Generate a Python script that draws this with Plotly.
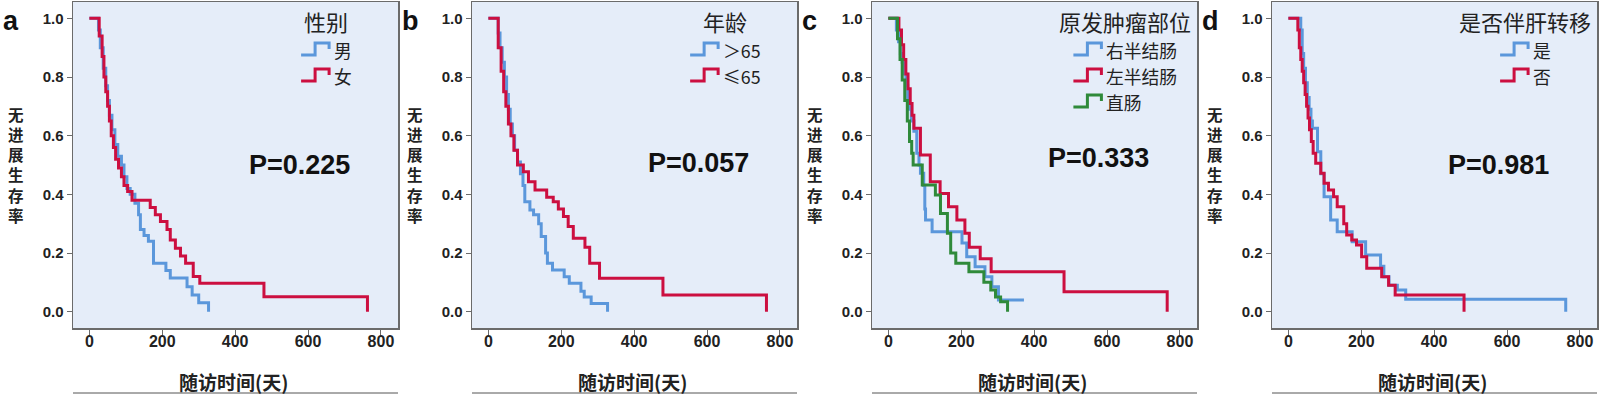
import plotly.graph_objects as go

# ---------------- data ----------------
# Panel a: 性别
a_male_t = [0, 25, 30, 38, 45, 50, 55, 62, 70, 78, 88, 95, 103, 112, 125, 135, 140, 150, 162, 176, 210, 222, 268, 282, 300, 327]
a_male_s = [1.0, 0.96, 0.9, 0.83, 0.77, 0.72, 0.67, 0.62, 0.57, 0.53, 0.5, 0.46, 0.42, 0.4, 0.37, 0.33, 0.28, 0.26, 0.24, 0.165, 0.14, 0.115, 0.085, 0.057, 0.03, 0.0]
a_female_t = [0, 27, 35, 40, 45, 50, 55, 60, 66, 72, 80, 88, 95, 105, 117, 167, 181, 195, 213, 222, 236, 250, 264, 285, 303, 479, 763]
a_female_s = [1.0, 0.94, 0.87, 0.80, 0.75, 0.70, 0.65, 0.60, 0.56, 0.52, 0.49, 0.46, 0.43, 0.41, 0.38, 0.355, 0.33, 0.307, 0.28, 0.244, 0.216, 0.19, 0.165, 0.12, 0.097, 0.051, 0.0]

# Panel b: 年龄
b_old_t = [0, 27, 32, 38, 44, 50, 55, 60, 66, 72, 80, 88, 95, 100, 114, 124, 138, 145, 157, 162, 176, 208, 222, 254, 263, 282, 327]
b_old_s = [1.0, 0.95, 0.9, 0.85, 0.8, 0.74, 0.69, 0.64, 0.6, 0.55, 0.51, 0.47, 0.43, 0.375, 0.347, 0.33, 0.3, 0.256, 0.2, 0.165, 0.142, 0.119, 0.097, 0.07, 0.05, 0.028, 0.0]
b_young_t = [0, 27, 35, 42, 48, 55, 62, 70, 80, 96, 110, 128, 160, 178, 192, 206, 219, 233, 265, 278, 305, 479, 763]
b_young_s = [1.0, 0.9, 0.82, 0.75, 0.7, 0.64, 0.6, 0.55, 0.5, 0.477, 0.443, 0.415, 0.39, 0.375, 0.35, 0.324, 0.29, 0.25, 0.22, 0.165, 0.114, 0.057, 0.0]

# Panel c: 原发肿瘤部位
c_right_t = [0, 22, 28, 33, 38, 43, 48, 53, 58, 63, 70, 78, 84, 88, 97, 100, 102, 120, 202, 215, 238, 265, 284, 302, 372]
c_right_s = [1.0, 0.96, 0.92, 0.88, 0.85, 0.81, 0.77, 0.73, 0.69, 0.65, 0.615, 0.54, 0.5, 0.472, 0.43, 0.35, 0.3125, 0.2727, 0.234, 0.1875, 0.153, 0.119, 0.085, 0.04, 0.04]
c_left_t = [0, 29, 36, 42, 48, 54, 60, 65, 70, 88, 115, 142, 165, 188, 210, 222, 252, 282, 482, 765]
c_left_s = [1.0, 0.96, 0.91, 0.86, 0.81, 0.76, 0.71, 0.67, 0.625, 0.534, 0.443, 0.403, 0.358, 0.3125, 0.267, 0.22, 0.18, 0.136, 0.068, 0.0]
c_rect_t = [0, 25, 32, 38, 45, 52, 58, 64, 68, 93, 129, 143, 162, 171, 185, 221, 262, 281, 294, 308, 327]
c_rect_s = [1.0, 0.93, 0.86, 0.79, 0.72, 0.65, 0.58, 0.54, 0.5, 0.432, 0.398, 0.335, 0.267, 0.2, 0.165, 0.136, 0.1, 0.074, 0.05, 0.034, 0.0]

# Panel d: 是否伴肝转移
d_yes_t = [0, 34, 38, 42, 47, 52, 57, 62, 66, 80, 89, 98, 116, 134, 175, 212, 253, 262, 276, 299, 322, 761]
d_yes_s = [1.0, 0.96, 0.88, 0.83, 0.78, 0.73, 0.69, 0.65, 0.625, 0.545, 0.47, 0.392, 0.3125, 0.2727, 0.2386, 0.193, 0.155, 0.119, 0.09, 0.074, 0.042, 0.0]
d_no_t = [0, 26, 30, 34, 38, 42, 46, 50, 54, 58, 63, 68, 75, 89, 98, 110, 124, 134, 152, 160, 174, 187, 201, 215, 256, 275, 293, 482]
d_no_s = [1.0, 0.96, 0.9, 0.86, 0.82, 0.78, 0.74, 0.7, 0.66, 0.62, 0.58, 0.54, 0.506, 0.472, 0.4375, 0.415, 0.392, 0.358, 0.3, 0.261, 0.244, 0.227, 0.1875, 0.148, 0.119, 0.09, 0.057, 0.0]

panel_letters = ["a", "b", "c", "d"]
legend_titles = ["性别", "年龄", "原发肿瘤部位", "是否伴肝转移"]
p_labels = ["P=0.225", "P=0.057", "P=0.333", "P=0.981"]
x_title = "随访时间(天)"
y_title = "无进展生存率"
x_ticks = [0, 200, 400, 600, 800]
y_ticks = [0.0, 0.2, 0.4, 0.6, 0.8, 1.0]

BLUE = "#5b97db"
RED = "#cc0f40"
GREEN = "#2f8a3a"

series = [
    [("男", a_male_t, a_male_s, BLUE), ("女", a_female_t, a_female_s, RED)],
    [("＞65", b_old_t, b_old_s, BLUE), ("≤65", b_young_t, b_young_s, RED)],
    [("右半结肠", c_right_t, c_right_s, BLUE), ("左半结肠", c_left_t, c_left_s, RED), ("直肠", c_rect_t, c_rect_s, GREEN)],
    [("是", d_yes_t, d_yes_s, BLUE), ("否", d_no_t, d_no_s, RED)],
]

# ---------------- layout geometry (pixels) ----------------
W, H = 1600, 395
BOX_LEFT = [73, 472, 872, 1272]
BOX_W = 325
BOX_TOP, BOX_BOT = 2, 328
P_Y = [165, 163, 158, 165]

CJK = "Noto Sans CJK SC"
LAT = "Liberation Sans"
BORDER = "#6b6b6b"
LEG_FONT = 17.8
ROW = 26


def px(x):
    return x / W


def py(y):
    return 1 - y / H


def text_w(s, size=LEG_FONT):
    w = 0
    for ch in s:
        w += size if ord(ch) > 0x2000 else size * 0.56
    return w


fig = go.Figure()
annotations = []
shapes = []

for i in range(4):
    n = i + 1
    xa = "x" if n == 1 else f"x{n}"
    ya = "y" if n == 1 else f"y{n}"
    for name, t, s, col in series[i]:
        fig.add_trace(go.Scatter(x=t, y=s, mode="lines", line=dict(color=col, width=3, shape="hv"),
                                 name=name, showlegend=False, xaxis=xa, yaxis=ya, hoverinfo="skip"))
    L = BOX_LEFT[i]
    axis_common = dict(showline=True, mirror=True, linecolor=BORDER, linewidth=1.5,
                       ticks="outside", ticklen=5, tickcolor=BORDER, tickwidth=1,
                       showgrid=False, zeroline=False)
    fig.update_layout(**{
        ("xaxis" if n == 1 else f"xaxis{n}"): dict(
            domain=[px(L), px(L + BOX_W)], anchor=ya, range=[-44.9, 846.8],
            tickvals=x_ticks, ticktext=[str(v) for v in x_ticks], ticklabelstandoff=-7,
            tickfont=dict(family=LAT, size=16, color="#222", weight="bold"), **axis_common),
        ("yaxis" if n == 1 else f"yaxis{n}"): dict(
            domain=[py(BOX_BOT), py(BOX_TOP)], anchor=xa, range=[-0.0557, 1.0557],
            tickvals=y_ticks, ticktext=[f"{v:.1f}" for v in y_ticks],
            tickfont=dict(family=LAT, size=15, color="#222", weight="bold"), **axis_common),
    })
    # panel letter
    annotations.append(dict(text=panel_letters[i], x=px(L - 73 + 1), y=py(21), xref="paper", yref="paper",
                            xanchor="left", yanchor="middle", showarrow=False,
                            font=dict(family=LAT, size=27, color="#111", weight="bold")))
    # y title (one character per line)
    annotations.append(dict(text="<br>".join(y_title), x=px(L - 57), y=py(164), xref="paper", yref="paper",
                            xanchor="center", yanchor="middle", showarrow=False,
                            font=dict(family=CJK, size=15.5, color="#222", weight="bold")))
    # x title
    annotations.append(dict(text=x_title, x=px(L + 160), y=py(381), xref="paper", yref="paper",
                            xanchor="center", yanchor="middle", showarrow=False, borderpad=0,
                            font=dict(family=CJK, size=19, color="#222", weight="bold")))
    # line under the x title
    shapes.append(dict(type="line", xref="paper", yref="paper", x0=px(L), x1=px(L + BOX_W),
                       y0=py(393), y1=py(393), line=dict(color="#555", width=1)))
    # P value
    annotations.append(dict(text=p_labels[i], x=px(L + 226), y=py(P_Y[i]), xref="paper", yref="paper",
                            xanchor="center", yanchor="middle", showarrow=False,
                            font=dict(family=LAT, size=27, color="#111", weight="bold")))
    # legend (title + step icons)
    cx = L + 253
    annotations.append(dict(text=legend_titles[i], x=px(cx), y=py(21), xref="paper", yref="paper",
                            xanchor="center", yanchor="middle", showarrow=False, borderpad=0,
                            font=dict(family=CJK, size=22, color="#222")))
    names = [nm for nm, _, _, _ in series[i]]
    tw = max(text_w(nm) for nm in names)
    icon_w, gap = 29, 3
    x0 = cx - (icon_w + gap + tw) / 2
    y_first = 49
    for r, (nm, _, _, col) in enumerate(series[i]):
        yc = y_first + ROW * r
        path = (f"M {px(x0)},{py(yc + 6)} L {px(x0 + 14)},{py(yc + 6)} L {px(x0 + 14)},{py(yc - 6)} "
                f"L {px(x0 + icon_w - 1)},{py(yc - 6)} L {px(x0 + icon_w - 1)},{py(yc)}")
        shapes.append(dict(type="path", xref="paper", yref="paper", path=path,
                           line=dict(color=col, width=3)))
        annotations.append(dict(text=nm, x=px(x0 + icon_w + gap), y=py(yc + 1), xref="paper", yref="paper",
                                xanchor="left", yanchor="middle", showarrow=False, borderpad=0,
                                font=dict(family=CJK, size=LEG_FONT, color="#222")))

fig.update_layout(
    width=W, height=H, margin=dict(l=0, r=0, t=0, b=0),
    paper_bgcolor="white", plot_bgcolor="#e5edf9",
    annotations=annotations, shapes=shapes, showlegend=False,
)

fig.write_html("out.html", config={"displayModeBar": False, "staticPlot": True},
               post_script="document.body.style.margin='0';document.body.style.overflow='hidden';")
